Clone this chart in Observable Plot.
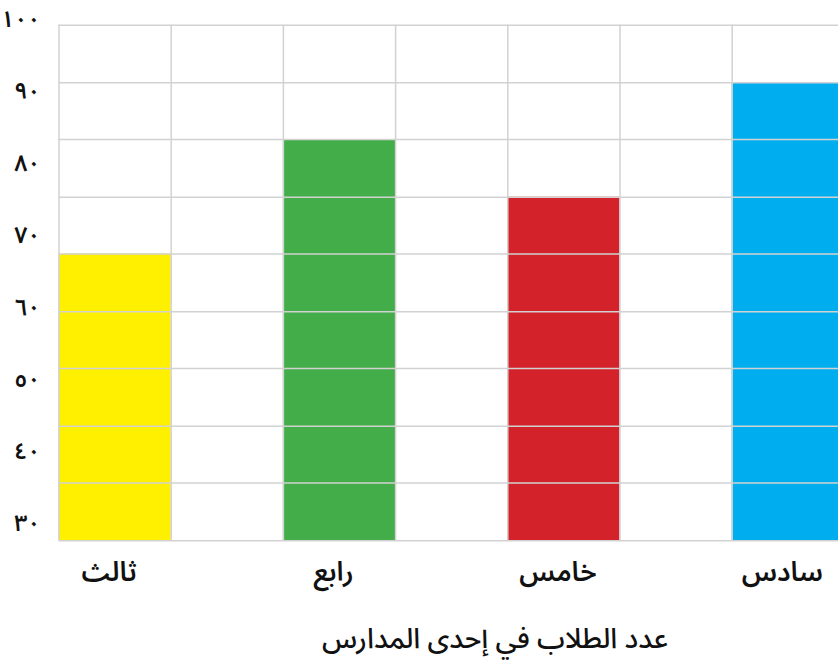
<!DOCTYPE html>
<html lang="ar">
<head>
<meta charset="utf-8">
<script src="https://cdn.jsdelivr.net/npm/d3@7"></script>
<script src="https://cdn.jsdelivr.net/npm/@observablehq/plot@0.6"></script>
<style>
  html, body { margin: 0; padding: 0; background: #ffffff; }
  body { width: 838px; height: 668px; overflow: hidden; font-family: "Noto Sans Arabic", "DejaVu Sans", sans-serif; }
  #title { margin-left: 152px; width: 686px; text-align: center; font-size: 28px; font-weight: 500; line-height: 50px; color: #111; }
</style>
</head>
<body>
<div id="chart"></div>
<div id="title">عدد الطلاب في إحدى المدارس</div>
<script>
// Data
const categories = ["ثالث", "رابع", "خامس", "سادس"];
const values = [67, 82.9, 74.9, 90.8];
const colors = ["#fff000", "#43ad4a", "#d3222a", "#00aeef"];
const slots = [0, 2, 4, 6];            // column of each bar in the 7-column grid
const yTicks = [30, 40, 50, 60, 70, 80, 90, 100];
const yGrid = [27.2, 35.2, 43.1, 51.1, 59.0, 67.0, 74.9, 82.9, 90.8, 98.8];
const xGrid = [0, 1, 2, 3, 4, 5, 6, 7];

const arabicDigits = "٠١٢٣٤٥٦٧٨٩";
const toArabic = d => String(d).replace(/\d/g, c => arabicDigits[+c]);

const data = categories.map((c, i) => ({cat: c, value: values[i], color: colors[i], slot: slots[i]}));

const chart = Plot.plot({
  width: 838,
  height: 615,
  marginLeft: 58,
  marginRight: 0,
  marginTop: 16,
  marginBottom: 95,
  style: {fontFamily: '"Noto Sans Arabic", "DejaVu Sans", sans-serif', background: "transparent", overflow: "visible"},
  x: {domain: [0, 7], range: [58.5, 843.9], axis: null},
  y: {domain: [30, 100], range: [520, 16], axis: null},
  color: {type: "identity"},
  marks: [
    Plot.rectY(data, {x1: d => d.slot, x2: d => d.slot + 1, y1: yGrid[0], y2: "value", fill: "color", inset: 0}),
    Plot.ruleY(yGrid, {x1: 0, x2: 7, stroke: "#d2d2d2", strokeWidth: 1.5}),
    Plot.ruleX(xGrid, {y1: yGrid[0], y2: yGrid[yGrid.length - 1], stroke: "#d2d2d2", strokeWidth: 1.5}),
    Plot.axisY(yTicks, {anchor: "left", label: null, tickSize: 0, tickPadding: 18, dy: 3, tickFormat: toArabic, fontSize: 23, fontWeight: 600, fill: "#111"}),
    Plot.text(data, {x: d => d.slot + 0.5, y: yGrid[0], text: "cat", dy: 32, dx: -6, fontSize: 27, fontWeight: 600, fill: "#111"})
  ]
});
document.getElementById("chart").appendChild(chart);
</script>
</body>
</html>
